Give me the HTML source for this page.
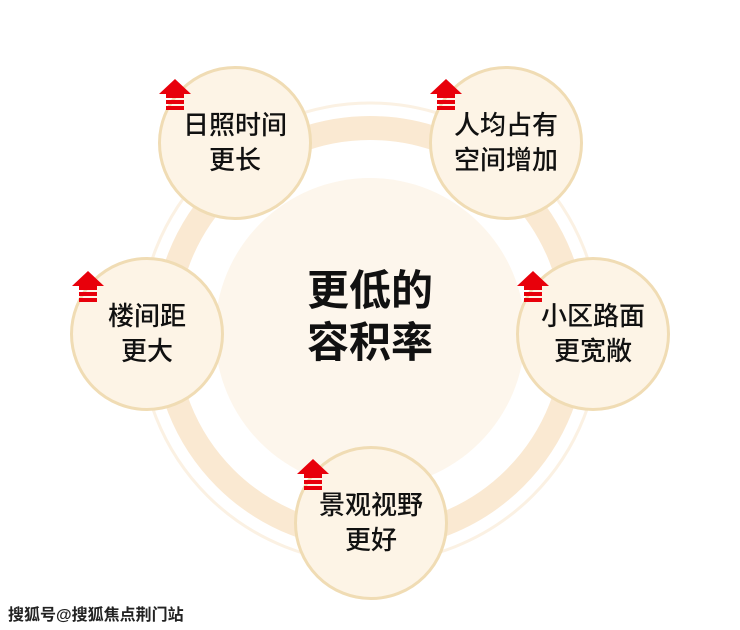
<!DOCTYPE html>
<html><head><meta charset="utf-8"><style>
html,body{margin:0;padding:0;background:#fff;}
body{width:740px;height:630px;position:relative;overflow:hidden;font-family:"Liberation Sans","Noto Sans CJK SC",sans-serif;}
.c{position:absolute;width:148px;height:148px;border-radius:50%;background:#fdf4e6;border:3px solid #f0dcb4;box-sizing:content-box;display:flex;align-items:center;justify-content:center;text-align:center;font-size:26px;line-height:35px;color:#111;font-weight:500;}
.mt{position:absolute;left:270px;top:265px;width:200px;text-align:center;font-size:42px;line-height:52px;font-weight:bold;color:#111;}
.ft{position:absolute;left:8px;top:601px;font-size:16px;font-weight:bold;color:#222;}
</style></head><body>
<svg width="740" height="630" style="position:absolute;left:0;top:0">
<circle cx="370" cy="333" r="230" fill="none" stroke="#fbf1e3" stroke-width="3"/>
<circle cx="370" cy="333" r="205" fill="none" stroke="#fae9d2" stroke-width="24"/>
<circle cx="370" cy="333" r="155" fill="#fdf6ec"/>
</svg>
<div class="c" style="left:158px;top:66px">日照时间<br>更长</div>
<div class="c" style="left:429px;top:66px">人均占有<br>空间增加</div>
<div class="c" style="left:70px;top:257px">楼间距<br>更大</div>
<div class="c" style="left:516px;top:257px">小区路面<br>更宽敞</div>
<div class="c" style="left:294px;top:446px">景观视野<br>更好</div>
<div class="mt">更低的<br>容积率</div>
<svg width="740" height="630" style="position:absolute;left:0;top:0">
<defs><g id="ar"><polygon points="15,0 31,15 -1,15" fill="#e8000b"/><rect x="6" y="15" width="18" height="4" fill="#e8000b"/><rect x="6" y="21" width="18" height="4" fill="#e8000b"/><rect x="6" y="27" width="18" height="4" fill="#e8000b"/></g></defs>
<use href="#ar" x="160" y="79"/>
<use href="#ar" x="431" y="79"/>
<use href="#ar" x="73" y="271"/>
<use href="#ar" x="518" y="271"/>
<use href="#ar" x="298" y="459"/>
</svg>
<div class="ft">搜狐号@搜狐焦点荆门站</div>
</body></html>
